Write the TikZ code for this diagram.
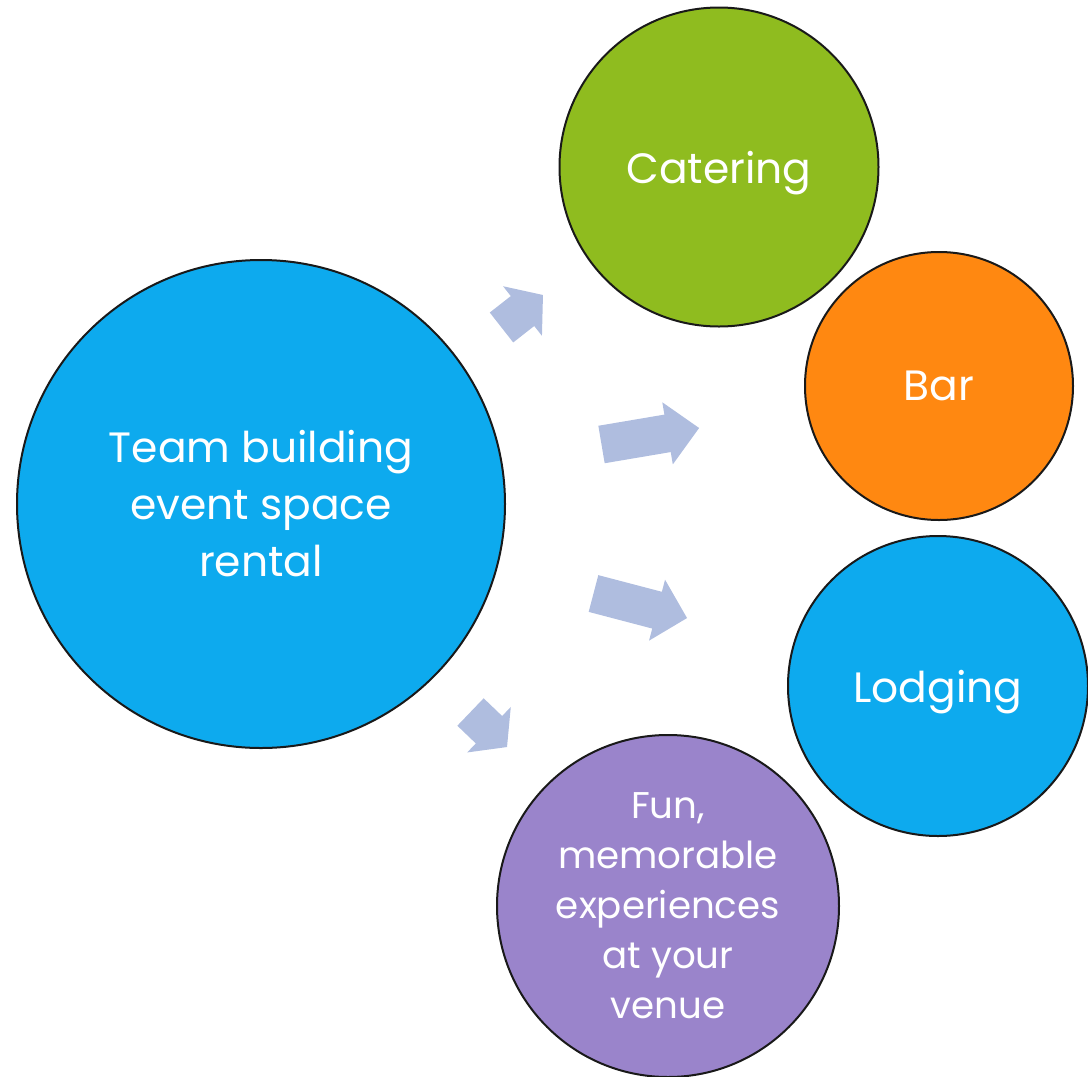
\documentclass[tikz,border=0pt]{standalone}
\usepackage{fontspec}
\setmainfont{Poppins}
\definecolor{teamblue}{HTML}{0DAAEE}
\definecolor{cateringgreen}{HTML}{8FBC1F}
\definecolor{barorange}{HTML}{FF8811}
\definecolor{funpurple}{HTML}{9A84CB}
\definecolor{arrowblue}{HTML}{AFBDDF}
% block arrow: tail centre, angle, length, head length
\newcommand{\blockarr}[4]{%
  \fill[arrowblue, shift={(#1)}, rotate=#2]
    (0,-19) -- ({#3-#4},-19) -- ({#3-#4},-31.5) -- (#3,0)
    -- ({#3-#4},31.5) -- ({#3-#4},19) -- (0,19) -- cycle;}

\begin{document}
\begin{tikzpicture}[x=0.5pt,y=-0.5pt,
    bubble/.style={circle,draw=black!90,line width=1pt,inner sep=0pt,
                   text=white,align=center},
    big/.style={font=\fontsize{21.2}{28.5}\selectfont},
    single/.style={font=\fontsize{21.2}{26}\selectfont,text depth=0pt},
    small/.style={font=\fontsize{18.6}{25}\selectfont}]
\useasboundingbox (0,0) rectangle (1088,1077);

\node[bubble,big,fill=teamblue,minimum size=244pt] (team) at (261,504)
    {Team building\\event space\\rental};
\node[bubble,single,fill=cateringgreen,minimum size=159.5pt] (catering) at (719,167) {Catering};
\node[bubble,single,fill=barorange,minimum size=134pt] (bar) at (939,386) {Bar};
\node[bubble,single,fill=teamblue,minimum size=150pt] (lodging) at (938,686) {Lodging};
\node[bubble,small,fill=funpurple,minimum size=171pt] (fun) at (668,906)
    {Fun,\\memorable\\experiences\\at your\\venue};

\blockarr{501.5,327.5}{38.1}{52.7}{26}
\blockarr{601.5,444.5}{9.6}{99}{32}
\blockarr{593.5,593.5}{-14.7}{96.7}{31}
\blockarr{470.5,712}{-43.8}{50.6}{25}
\end{tikzpicture}
\end{document}
